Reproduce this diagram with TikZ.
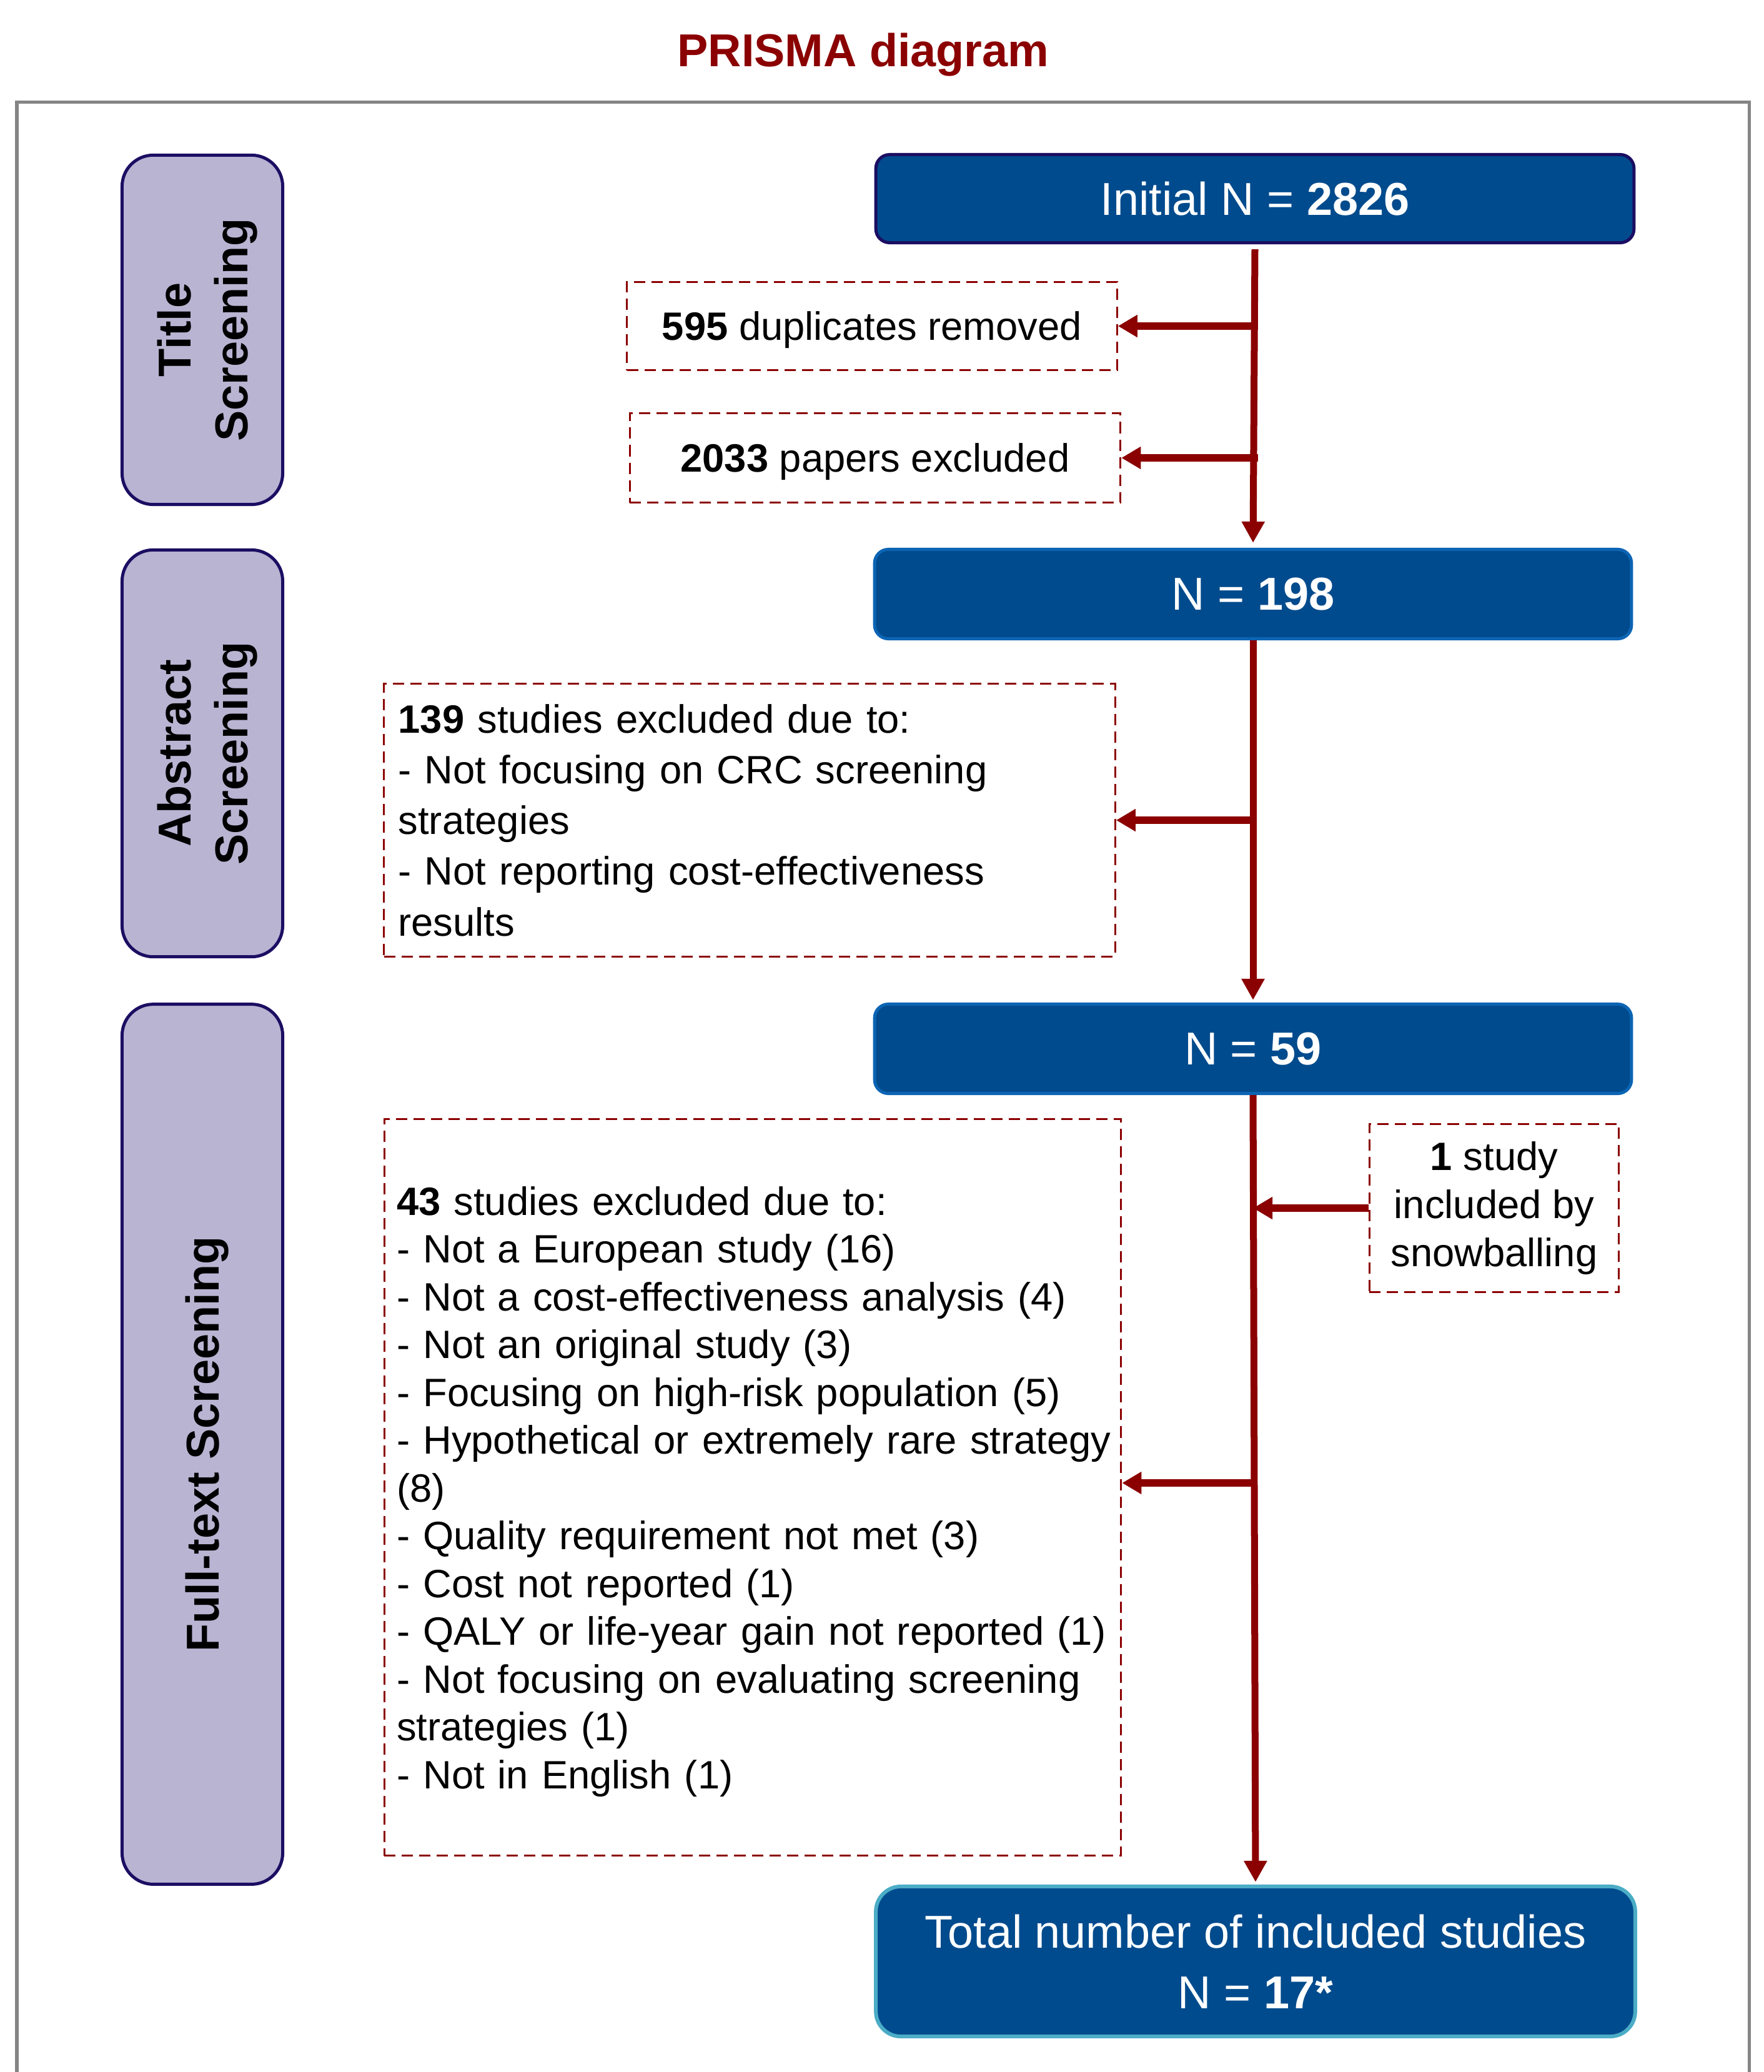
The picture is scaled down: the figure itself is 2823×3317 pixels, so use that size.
\documentclass[tikz,border=0pt]{standalone}
\usepackage{fontspec}
\setmainfont{Liberation Sans}
\usetikzlibrary{arrows.meta,calc}
\definecolor{dred}{RGB}{139,0,0}
\definecolor{bfill}{RGB}{0,75,141}
\definecolor{navyb}{RGB}{27,14,98}
\definecolor{lblue}{RGB}{12,100,180}
\definecolor{tealb}{RGB}{75,172,198}
\definecolor{lav}{RGB}{184,180,210}
\definecolor{framec}{RGB}{133,133,133}
\begin{document}
\begin{tikzpicture}[x=0.01cm,y=-0.01cm,
  bluebox/.style={draw=lblue, fill=bfill, text=white, line width=0.05cm,
    rounded corners=0.22cm, font=\fontsize{21}{25}\selectfont, inner sep=0pt, text depth=0pt},
  sidebox/.style={draw=navyb, fill=lav, line width=0.05cm, rounded corners=0.5cm,
    font=\bfseries\fontsize{21}{26}\selectfont, inner sep=0pt, align=center, rotate=90,
    minimum height=2.57cm, text depth=0pt},
  exbox/.style={draw=dred, line width=0.03cm, dash pattern=on 0.18cm off 0.1cm,
    font=\fontsize{18}{22}\selectfont, inner sep=0pt},
  flow/.style={draw=dred, line width=0.11cm, -{Triangle[length=0.34cm,width=0.35cm]}},
  branch/.style={draw=dred, line width=0.12cm, -{Triangle[length=0.31cm,width=0.34cm]}}
]
\useasboundingbox (0,0) rectangle (2823,3317);
% frame
\draw[framec, line width=0.05cm] (27,3340) -- (27,163) -- (2800,163) -- (2800,3340);
% title
\node[text=dred, font=\bfseries\fontsize{21}{25}\selectfont, text depth=0pt, inner sep=0pt] (title) at (1382,80) {PRISMA diagram};

% side labels
\node[sidebox, minimum width=5.59cm] (ts) at (324,528) {Title\\Screening};
\node[sidebox, minimum width=6.51cm] (as) at (324,1206) {Abstract\\Screening};
\node[sidebox, minimum width=14.08cm] (fs) at (324,2312) {Full-text Screening};

% main boxes
\node[bluebox, draw=navyb, minimum width=12.13cm, minimum height=1.41cm] (init) at (2009,318) {Initial N = \textbf{2826}};
\node[bluebox, minimum width=12.11cm, minimum height=1.43cm] (n198) at (2006,951) {N = \textbf{198}};
\node[bluebox, minimum width=12.11cm, minimum height=1.43cm] (n59) at (2006,1679) {N = \textbf{59}};
\node[bluebox, draw=tealb, line width=0.06cm, rounded corners=0.4cm, minimum width=12.15cm, minimum height=2.40cm,
  align=center, text depth=, font=\fontsize{21}{27.5}\selectfont] (final) at (2010,3140) {Total number of included studies\\N = \textbf{17*}};

% exclusion boxes
\node[exbox, minimum width=7.84cm, minimum height=1.41cm, text depth=0pt] (dup) at (1396,522) {\textbf{595} duplicates removed};
\node[exbox, minimum width=7.85cm, minimum height=1.43cm, text depth=0pt] (pap) at (1401,733) {\textbf{2033} papers excluded};
\node[exbox, minimum height=4.36cm, inner xsep=0.23cm, text width=11.24cm, align=left,
  font=\fontsize{18}{23.1}\selectfont] (abs) at (1200,1313) {\textbf{139} studies excluded due to:\\- Not focusing on CRC screening\\strategies\\- Not reporting cost-effectiveness\\results};
\node[exbox, minimum height=11.79cm, inner xsep=0.2cm, text width=11.39cm, align=left,
  font=\fontsize{18}{21.75}\selectfont] (ft) at (1205,2381) {\mbox{\rule{0pt}{17pt}\textbf{43} studies excluded due to:}\\\mbox{- Not a European study (16)}\\\mbox{- Not a cost-effectiveness analysis (4)}\\\mbox{- Not an original study (3)}\\\mbox{- Focusing on high-risk population (5)}\\\mbox{- Hypothetical or extremely rare strategy}\\(8)\\\mbox{- Quality requirement not met (3)}\\\mbox{- Cost not reported (1)}\\\mbox{- QALY or life-year gain not reported (1)}\\\mbox{- Not focusing on evaluating screening}\\\mbox{strategies (1)}\\\mbox{- Not in English (1)}};
\node[exbox, minimum width=3.99cm, minimum height=2.69cm, align=center,
  font=\fontsize{18}{22}\selectfont] (snow) at (2392,1934) {\textbf{1} study\\included by\\snowballing};

% main flow
\draw[flow, shorten >=0.08cm] ([yshift=-0.08cm]init.south) -- (n198.north);
\draw[flow, shorten >=0.04cm] (n198.south) -- (n59.north);
\draw[flow, shorten >=0.04cm] (n59.south) -- (final.north);

% junctions
\coordinate (j1) at (init.south |- dup.east);
\coordinate (j2) at (init.south |- pap.east);
\coordinate (j3) at (n198.south |- abs.east);
\coordinate (j4) at (n59.south |- 0,2374);
\coordinate (js) at (n59.south |- snow.west);

\draw[branch] ([xshift=0.05cm]j1) -- (dup.east);
\draw[branch] ([xshift=0.05cm]j2) -- (pap.east);
\draw[branch] ([xshift=0.05cm]j3) -- (abs.east);
\draw[branch] (j4) -- (j4 -| ft.east);
\draw[branch] (snow.west) -- (js);
\end{tikzpicture}
\end{document}
